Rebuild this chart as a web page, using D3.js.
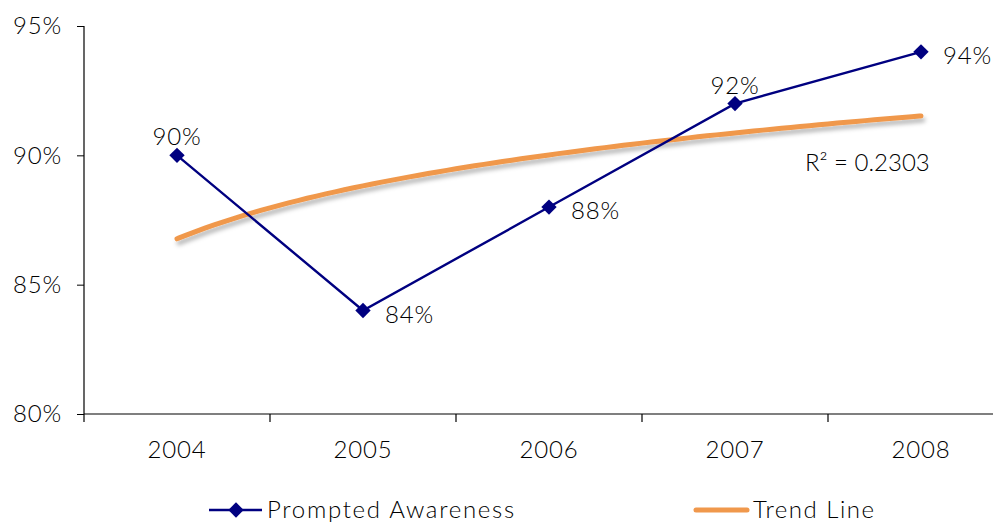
<!DOCTYPE html>
<html>
<head>
<meta charset="utf-8">
<script src="https://cdn.jsdelivr.net/npm/d3@7/dist/d3.min.js"></script>
<style>
  html, body { margin: 0; padding: 0; background: #fff; }
  svg { display: block; }
  text { font-family: "Century Gothic", "Lato", "Open Sans", sans-serif; font-weight: 300; fill: #000; }
</style>
</head>
<body>
<svg id="chart" width="993" height="523"></svg>
<script>
// Survey results by year
const years = ["2004", "2005", "2006", "2007", "2008"];
const awareness = [90, 84, 88, 92, 94];
const yTicks = [80, 85, 90, 95];
const r2Label = "R\u00b2 = 0.2303";
const seriesName = "Prompted Awareness";
const trendName = "Trend Line";

const navy = "#000080";
const orange = "#F0984C";

const svg = d3.select("#chart");

const x = d3.scaleBand().domain(years).range([84, 1014]).padding(0);
const y = d3.scaleLinear().domain([80, 95]).range([414, 26]);

// drop shadow for the trend curve
const defs = svg.append("defs");
const f = defs.append("filter").attr("id", "shadow")
  .attr("x", "-5%").attr("y", "-50%").attr("width", "110%").attr("height", "200%");
f.append("feDropShadow").attr("dx", 2).attr("dy", 4).attr("stdDeviation", 2.2)
  .attr("flood-color", "#000").attr("flood-opacity", 0.28);

// Y axis
const yAxis = svg.append("g").attr("transform", "translate(84,0)")
  .call(d3.axisLeft(y).tickValues(yTicks).tickSize(7).tickPadding(15).tickFormat(d => d + "%"));
yAxis.select(".domain").remove();
yAxis.selectAll(".tick line").attr("stroke", "#000");
yAxis.selectAll(".tick text").attr("font-size", 24).attr("fill", "#000").attr("letter-spacing", 0.8);
svg.append("line").attr("x1", 84).attr("x2", 84).attr("y1", y(95)).attr("y2", 422)
  .attr("stroke", "#000").attr("stroke-width", 1.2);

// X axis
const xAxis = svg.append("g").attr("transform", `translate(0,${y(80)})`)
  .call(d3.axisBottom(x).tickSize(0).tickPadding(27));
xAxis.select(".domain").remove();
xAxis.selectAll(".tick text").attr("font-size", 24).attr("fill", "#000").attr("letter-spacing", 0.8);
svg.append("line").attr("x1", 84).attr("x2", 1014).attr("y1", y(80)).attr("y2", y(80))
  .attr("stroke", "#000").attr("stroke-width", 1.2);
svg.append("g").selectAll("line").data(years.slice(1)).join("line")
  .attr("x1", d => x(d)).attr("x2", d => x(d))
  .attr("y1", y(80)).attr("y2", y(80) + 8)
  .attr("stroke", "#000").attr("stroke-width", 1.2);

const cx = d => x(d) + x.bandwidth() / 2;

// Logarithmic least-squares trend over the series (x = 1..n)
const lnX = awareness.map((_, i) => Math.log(i + 1));
const mx = d3.mean(lnX), my = d3.mean(awareness);
const slope = d3.sum(lnX, (v, i) => (v - mx) * (awareness[i] - my)) / d3.sum(lnX, v => (v - mx) ** 2);
const icpt = my - slope * mx;
const trendPts = d3.range(1, years.length + 0.001, 0.05).map(t => [t, icpt + slope * Math.log(t)]);
const tx = d3.scaleLinear().domain([1, years.length]).range([cx(years[0]), cx(years[years.length - 1])]);

svg.append("path")
  .datum(trendPts)
  .attr("d", d3.line().x(d => tx(d[0])).y(d => y(d[1])).curve(d3.curveBasis))
  .attr("fill", "none").attr("stroke", orange).attr("stroke-width", 5)
  .attr("stroke-linecap", "round").attr("filter", "url(#shadow)");

// Series line
svg.append("path")
  .datum(awareness)
  .attr("d", d3.line().x((d, i) => cx(years[i])).y(d => y(d)))
  .attr("fill", "none").attr("stroke", navy).attr("stroke-width", 2.4);

const diamond = d3.symbol().type(d3.symbolDiamond2).size(150);
svg.append("g").selectAll("path").data(awareness).join("path")
  .attr("d", diamond)
  .attr("transform", (d, i) => `translate(${cx(years[i])},${y(d)})`)
  .attr("fill", navy);

// Value labels
const labelPos = ["above", "right", "right", "above", "right"];
svg.append("g").selectAll("text").data(awareness).join("text")
  .attr("x", (d, i) => labelPos[i] === "above" ? cx(years[i]) : cx(years[i]) + 22)
  .attr("y", (d, i) => labelPos[i] === "above" ? y(d) - 10 : y(d) + 12)
  .attr("text-anchor", (d, i) => labelPos[i] === "above" ? "middle" : "start")
  .attr("font-size", 24)
  .attr("letter-spacing", 0.8)
  .text(d => d + "%");

// R² annotation
svg.append("text").attr("x", 805).attr("y", 171).attr("font-size", 24).text(r2Label);

// Legend
const ly = 510;
const lg1 = svg.append("g");
lg1.append("line").attr("x1", 209).attr("x2", 262).attr("y1", ly).attr("y2", ly)
  .attr("stroke", navy).attr("stroke-width", 2.4);
lg1.append("path").attr("d", diamond).attr("transform", `translate(236,${ly})`).attr("fill", navy);
lg1.append("text").attr("x", 267).attr("y", ly + 8).attr("font-size", 24)
  .attr("letter-spacing", 1.7).text(seriesName);

const lg2 = svg.append("g");
lg2.append("line").attr("x1", 696).attr("x2", 747).attr("y1", ly).attr("y2", ly)
  .attr("stroke", orange).attr("stroke-width", 5).attr("stroke-linecap", "round");
lg2.append("text").attr("x", 753).attr("y", ly + 8).attr("font-size", 24)
  .attr("letter-spacing", 1.5).text(trendName);
</script>
</body>
</html>
